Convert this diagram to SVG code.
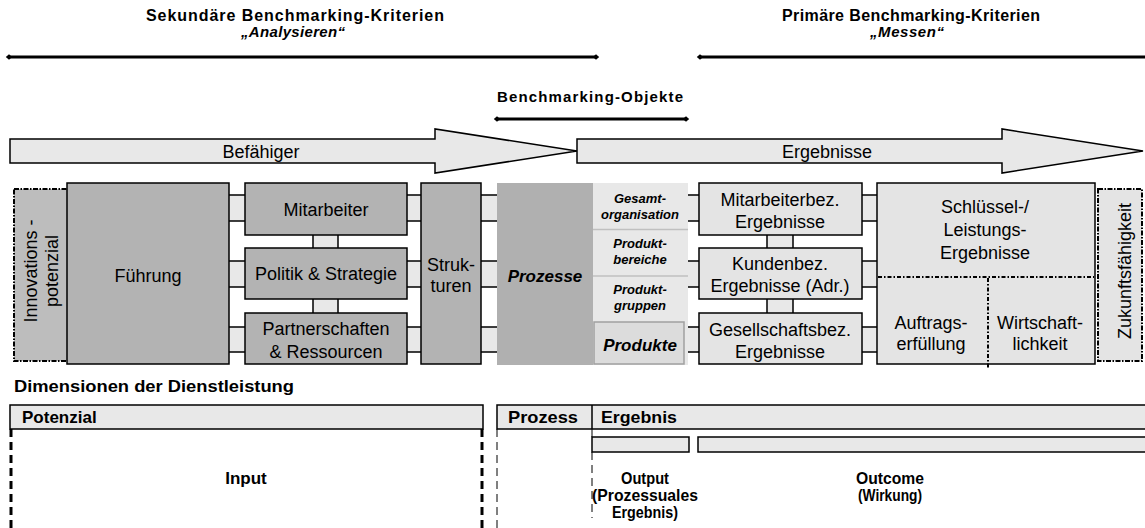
<svg xmlns="http://www.w3.org/2000/svg" width="1145" height="528" viewBox="0 0 1145 528">
  <style>
    text { font-family: "Liberation Sans", Arial, sans-serif; fill: #000; }
    .hd { font-size: 16px; font-weight: bold; }
    .hdi { font-size: 15px; font-weight: bold; font-style: italic; }
    .ob { font-size: 15px; font-weight: bold; }
    .lbl { font-size: 18px; }
    .sm { font-size: 13px; font-weight: bold; font-style: italic; }
    .bi { font-size: 17px; font-weight: bold; font-style: italic; }
    .dim { font-size: 17px; font-weight: bold; }
    .nar { font-size: 17px; font-weight: bold; }
    .dark { fill: #b3b3b3; stroke: #000; stroke-width: 1.5; }
    .light { fill: #e4e4e4; stroke: #000; stroke-width: 1.5; }
    .arrow { fill: #e8e8e8; stroke: #000; stroke-width: 1.5; }
    .conn { fill: #e8e8e8; stroke: none; }
    .cl { stroke: #000; stroke-width: 1.5; fill: none; }
    .span { stroke: #000; stroke-width: 3; fill: none; }
    .dotbox { stroke: #000; stroke-width: 2; stroke-dasharray: 5 1.5 1.5 1.5; }
    .dotline { stroke: #000; stroke-width: 2; stroke-dasharray: 4 2 1.5 2; fill: none; }
    .bar { fill: #e8e8e8; stroke: #000; stroke-width: 1.5; }
    .thin { stroke: #000; stroke-width: 1; stroke-dasharray: 8 5; fill: none; }
    .thick { stroke: #000; stroke-width: 3; stroke-dasharray: 8 5; fill: none; }
  </style>
  <defs>
    <marker id="dia" viewBox="-5 -5 10 10" markerWidth="8" markerHeight="8" refX="0" refY="0" markerUnits="userSpaceOnUse" orient="auto">
      <path d="M-4 0 L0 -3.5 L4 0 L0 3.5 Z" fill="#000"/>
    </marker>
  </defs>

  <!-- headings with their ranges -->
  <g id="secondary">
    <text class="hd" x="295" y="21" text-anchor="middle" textLength="298" lengthAdjust="spacing">Sekundäre Benchmarking-Kriterien</text>
    <text class="hdi" x="293" y="37" text-anchor="middle" textLength="104" lengthAdjust="spacing">„Analysieren“</text>
    <line class="span" x1="9" y1="57" x2="596" y2="57" marker-start="url(#dia)" marker-end="url(#dia)"/>
  </g>
  <g id="primary">
    <text class="hd" x="911" y="21" text-anchor="middle" textLength="258" lengthAdjust="spacing">Primäre Benchmarking-Kriterien</text>
    <text class="hdi" x="907" y="37" text-anchor="middle" textLength="74" lengthAdjust="spacing">„Messen“</text>
    <line class="span" x1="700" y1="57" x2="1150" y2="57" marker-start="url(#dia)"/>
  </g>
  <g id="objects">
    <text class="ob" x="590" y="102" text-anchor="middle" textLength="186" lengthAdjust="spacing">Benchmarking-Objekte</text>
    <line class="span" x1="497" y1="119" x2="686" y2="119" marker-start="url(#dia)" marker-end="url(#dia)"/>
  </g>

  <!-- phase arrows -->
  <g id="befaehiger">
    <path class="arrow" d="M10 139 H435 V129 L577 151 L435 173 V163 H10 Z"/>
    <text class="lbl" x="261" y="158" text-anchor="middle">Befähiger</text>
  </g>
  <g id="ergebnisse">
    <path class="arrow" d="M577 139 H1002 V129 L1143 151 L1002 173 V163 H577 Z"/>
    <text class="lbl" x="827" y="158" text-anchor="middle">Ergebnisse</text>
  </g>

  <!-- connectors between the model boxes -->
  <g id="connectors">
    <!-- horizontal links: light strip between two lines -->
    <g>
      <rect class="conn" x="228" y="195" width="18" height="26"/>
      <rect class="conn" x="228" y="261" width="18" height="26"/>
      <rect class="conn" x="228" y="327" width="18" height="25"/>
      <rect class="conn" x="406" y="195" width="16" height="26"/>
      <rect class="conn" x="406" y="261" width="16" height="26"/>
      <rect class="conn" x="406" y="327" width="16" height="25"/>
      <rect class="conn" x="481" y="195" width="17" height="26"/>
      <rect class="conn" x="481" y="261" width="17" height="26"/>
      <rect class="conn" x="481" y="327" width="17" height="25"/>
      <rect class="conn" x="687" y="195" width="13" height="26"/>
      <rect class="conn" x="687" y="261" width="13" height="26"/>
      <rect class="conn" x="687" y="327" width="13" height="25"/>
      <rect class="conn" x="861" y="195" width="17" height="26"/>
      <rect class="conn" x="861" y="261" width="17" height="26"/>
      <rect class="conn" x="861" y="327" width="17" height="25"/>
      <path class="cl" d="M229 195 H245 M229 221 H245 M229 261 H245 M229 287 H245 M229 327 H245 M229 352 H245"/>
      <path class="cl" d="M407 195 H421 M407 221 H421 M407 261 H421 M407 287 H421 M407 327 H421 M407 352 H421"/>
      <path class="cl" d="M481 195 H497 M481 221 H497 M481 261 H497 M481 287 H497 M481 327 H497 M481 352 H497"/>
      <path class="cl" d="M688 195 H699 M688 221 H699 M688 261 H699 M688 287 H699 M688 327 H699 M688 352 H699"/>
      <path class="cl" d="M862 195 H877 M862 221 H877 M862 261 H877 M862 287 H877 M862 327 H877 M862 352 H877"/>
    </g>
    <!-- vertical links between stacked boxes -->
    <g>
      <rect class="conn" x="313" y="234" width="25" height="14"/>
      <rect class="conn" x="313" y="298" width="25" height="16"/>
      <rect class="conn" x="767" y="234" width="26" height="14"/>
      <rect class="conn" x="767" y="298" width="26" height="16"/>
      <path class="cl" d="M313 235 V248 M338 235 V248 M313 299 V313 M338 299 V313"/>
      <path class="cl" d="M767 235 V248 M793 235 V248 M767 299 V313 M793 299 V313"/>
    </g>
  </g>

  <!-- enablers -->
  <g id="innovation">
    <rect class="dotbox" x="14" y="189" width="54" height="172" fill="#bdbdbd"/>
    <text class="lbl" transform="translate(37 271) rotate(-90)" text-anchor="middle">Innovations -</text>
    <text class="lbl" transform="translate(58 271) rotate(-90)" text-anchor="middle">potenzial</text>
  </g>
  <g id="fuehrung">
    <rect class="dark" x="67" y="183" width="162" height="181"/>
    <text class="lbl" x="148" y="282" text-anchor="middle">Führung</text>
  </g>
  <g id="mitarbeiter">
    <rect class="dark" x="245" y="183" width="162" height="52"/>
    <text class="lbl" x="326" y="216" text-anchor="middle">Mitarbeiter</text>
  </g>
  <g id="politik">
    <rect class="dark" x="245" y="248" width="162" height="51"/>
    <text class="lbl" x="326" y="280" text-anchor="middle">Politik &amp; Strategie</text>
  </g>
  <g id="partner">
    <rect class="dark" x="245" y="313" width="162" height="51"/>
    <text class="lbl" x="326" y="335" text-anchor="middle">Partnerschaften</text>
    <text class="lbl" x="326" y="358" text-anchor="middle">&amp; Ressourcen</text>
  </g>
  <g id="strukturen">
    <rect class="dark" x="421" y="183" width="60" height="181"/>
    <text class="lbl" x="451" y="271" text-anchor="middle">Struk-</text>
    <text class="lbl" x="451" y="292" text-anchor="middle">turen</text>
  </g>

  <!-- processes and objects -->
  <g id="prozesse">
    <rect x="497" y="183" width="96" height="182" fill="#b0b0b0"/>
    <text class="bi" x="545" y="282" text-anchor="middle">Prozesse</text>
  </g>
  <g id="objektebenen">
    <rect x="593" y="183" width="95" height="182" fill="#e8e8e8"/>
    <path d="M593 229.5 H688 M593 276 H688" stroke="#c0c0c0" stroke-width="1.5"/>
    <text class="sm" x="640" y="203" text-anchor="middle">Gesamt-</text>
    <text class="sm" x="640" y="219" text-anchor="middle">organisation</text>
    <text class="sm" x="640" y="248" text-anchor="middle">Produkt-</text>
    <text class="sm" x="640" y="264" text-anchor="middle">bereiche</text>
    <text class="sm" x="640" y="294" text-anchor="middle">Produkt-</text>
    <text class="sm" x="640" y="310" text-anchor="middle">gruppen</text>
  </g>
  <g id="produkte">
    <rect x="594" y="322" width="90" height="42" fill="#dcdcdc" stroke="#a0a0a0" stroke-width="1.5"/>
    <text class="bi" x="640" y="351" text-anchor="middle">Produkte</text>
  </g>

  <!-- results -->
  <g id="mitarbeiterergebnisse">
    <rect class="light" x="699" y="183" width="163" height="52"/>
    <text class="lbl" x="780" y="206" text-anchor="middle">Mitarbeiterbez.</text>
    <text class="lbl" x="780" y="228" text-anchor="middle">Ergebnisse</text>
  </g>
  <g id="kundenergebnisse">
    <rect class="light" x="699" y="248" width="163" height="51"/>
    <text class="lbl" x="780" y="270" text-anchor="middle">Kundenbez.</text>
    <text class="lbl" x="780" y="292" text-anchor="middle">Ergebnisse (Adr.)</text>
  </g>
  <g id="gesellschaftsergebnisse">
    <rect class="light" x="699" y="313" width="163" height="51"/>
    <text class="lbl" x="780" y="336" text-anchor="middle">Gesellschaftsbez.</text>
    <text class="lbl" x="780" y="358" text-anchor="middle">Ergebnisse</text>
  </g>
  <g id="schluesselergebnisse">
    <rect class="light" x="877" y="183" width="218" height="181"/>
    <path class="dotline" d="M878 277 H1094"/>
    <path class="dotline" d="M988 278 V369"/>
    <text class="lbl" x="985" y="213" text-anchor="middle">Schlüssel-/</text>
    <text class="lbl" x="985" y="236" text-anchor="middle">Leistungs-</text>
    <text class="lbl" x="985" y="259" text-anchor="middle">Ergebnisse</text>
    <text class="lbl" x="931" y="329" text-anchor="middle">Auftrags-</text>
    <text class="lbl" x="931" y="350" text-anchor="middle">erfüllung</text>
    <text class="lbl" x="1040" y="329" text-anchor="middle">Wirtschaft-</text>
    <text class="lbl" x="1040" y="350" text-anchor="middle">lichkeit</text>
  </g>
  <g id="zukunft">
    <rect class="dotbox" x="1098" y="189" width="44" height="172" fill="#e4e4e4"/>
    <text class="lbl" transform="translate(1131 271) rotate(-90)" text-anchor="middle">Zukunftsfähigkeit</text>
  </g>

  <!-- service dimensions -->
  <g id="dimensionen">
    <text class="dim" x="14" y="392" textLength="280" lengthAdjust="spacingAndGlyphs">Dimensionen der Dienstleistung</text>
  </g>
  <g id="potenzial">
    <rect class="bar" x="10" y="405" width="473" height="24"/>
    <text class="dim" x="22" y="423">Potenzial</text>
    <path class="thick" d="M11 429 V528 M482 429 V528"/>
    <text class="dim" x="246" y="484" text-anchor="middle">Input</text>
  </g>
  <g id="prozess">
    <rect class="bar" x="497" y="405" width="660" height="24"/>
    <line x1="592" y1="405" x2="592" y2="429" stroke="#000" stroke-width="1.5"/>
    <text class="dim" x="508" y="423" textLength="70" lengthAdjust="spacingAndGlyphs">Prozess</text>
    <text class="dim" x="601" y="423" textLength="76" lengthAdjust="spacingAndGlyphs">Ergebnis</text>
    <path class="thin" d="M497 429 V528"/>
  </g>
  <g id="output">
    <rect class="bar" x="592" y="437" width="97" height="15"/>
    <path class="thin" d="M592 429 V437 M592 452 V518"/>
    <text class="nar" x="645" y="484" text-anchor="middle" textLength="48" lengthAdjust="spacingAndGlyphs">Output</text>
    <text class="nar" x="645" y="501" text-anchor="middle" textLength="106" lengthAdjust="spacingAndGlyphs">(Prozessuales</text>
    <text class="nar" x="645" y="518" text-anchor="middle" textLength="66" lengthAdjust="spacingAndGlyphs">Ergebnis)</text>
  </g>
  <g id="outcome">
    <rect class="bar" x="698" y="437" width="460" height="15"/>
    <text class="nar" x="890" y="484" text-anchor="middle" textLength="68" lengthAdjust="spacingAndGlyphs">Outcome</text>
    <text class="nar" x="890" y="501" text-anchor="middle" textLength="64" lengthAdjust="spacingAndGlyphs">(Wirkung)</text>
  </g>
</svg>
